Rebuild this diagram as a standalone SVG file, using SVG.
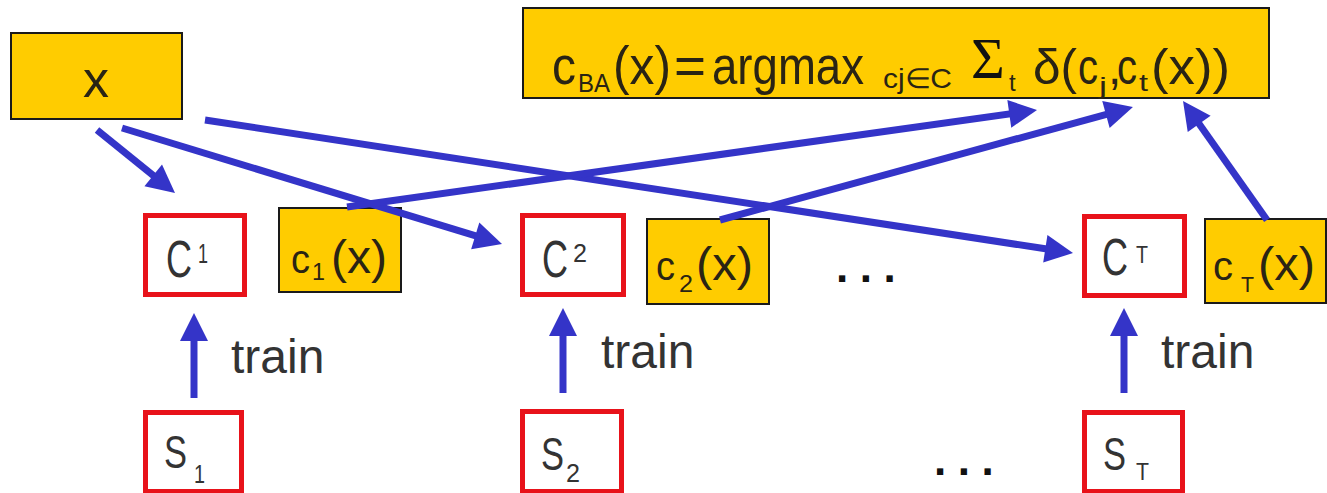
<svg xmlns="http://www.w3.org/2000/svg" width="1327" height="493" viewBox="0 0 1327 493">
  <style>
    .yel { fill: #ffcc00; stroke: #1a1a1a; stroke-width: 2; }
    .red { fill: #ffffff; stroke: #e8121a; stroke-width: 5; }
    .lbl { font-family: "Liberation Sans", Arial, sans-serif; fill: #333333; }
    .frm { font-family: "Liberation Sans", Arial, sans-serif; fill: #2a2414; }
    .sig { font-family: "Liberation Serif", "Times New Roman", serif; fill: #111111; }
    .dots { font-family: "Liberation Sans", Arial, sans-serif; font-weight: bold; fill: #111111; font-size: 44px; letter-spacing: 11.5px; }
    .arr { stroke: #3434c8; stroke-width: 7; fill: none; marker-end: url(#head); }
  </style>
  <defs>
    <marker id="head" markerUnits="userSpaceOnUse" markerWidth="30" markerHeight="28" refX="10" refY="14" orient="auto" overflow="visible">
      <path d="M0,0 L28,14 L0,28 z" fill="#3434c8"/>
    </marker>
  </defs>

  <rect width="1327" height="493" fill="#ffffff"/>

  <!-- input -->
  <g id="node-x">
    <rect class="yel" x="11" y="33" width="171" height="86"/>
    <text class="frm" x="96" y="97" font-size="52" text-anchor="middle">x</text>
  </g>

  <!-- combination rule -->
  <g id="node-vote">
    <rect class="yel" x="523" y="8" width="746" height="90"/>
    <text class="frm" x="552" y="84" font-size="54" textLength="24" lengthAdjust="spacingAndGlyphs">c</text>
    <text class="frm" x="578" y="92" font-size="26" textLength="32" lengthAdjust="spacingAndGlyphs">BA</text>
    <text class="frm" x="613" y="84" font-size="54" textLength="58" lengthAdjust="spacingAndGlyphs">(x)</text>
    <text class="frm" x="674" y="84" font-size="54" textLength="32" lengthAdjust="spacingAndGlyphs">=</text>
    <text class="frm" x="712" y="84" font-size="54" textLength="152" lengthAdjust="spacingAndGlyphs">argmax</text>
    <text class="frm" x="883" y="88" font-size="28" textLength="69" lengthAdjust="spacingAndGlyphs">cj∈C</text>
    <text class="sig" x="971" y="78" font-size="58">Σ</text>
    <text class="frm" x="1009" y="91" font-size="24">t</text>
    <text class="frm" x="1033" y="84" font-size="50" textLength="44" lengthAdjust="spacingAndGlyphs">δ(</text>
    <text class="frm" x="1078" y="84" font-size="50" textLength="20" lengthAdjust="spacingAndGlyphs">c</text>
    <text class="frm" x="1099" y="94" font-size="24" textLength="8" lengthAdjust="spacingAndGlyphs">j</text>
    <text class="frm" x="1108" y="84" font-size="48">,</text>
    <text class="frm" x="1117" y="84" font-size="50" textLength="20" lengthAdjust="spacingAndGlyphs">c</text>
    <text class="frm" x="1139" y="91" font-size="24" textLength="9" lengthAdjust="spacingAndGlyphs">t</text>
    <text class="frm" x="1151" y="84" font-size="50" textLength="79" lengthAdjust="spacingAndGlyphs">(x))</text>
  </g>

  <!-- classifiers -->
  <g id="node-c1">
    <rect class="red" x="145.5" y="215.5" width="99" height="79"/>
    <text class="lbl" x="166" y="277" font-size="52" textLength="26" lengthAdjust="spacingAndGlyphs">C</text>
    <text class="lbl" x="198" y="263" font-size="28" textLength="10" lengthAdjust="spacingAndGlyphs">1</text>
  </g>
  <g id="node-c2">
    <rect class="red" x="522.5" y="215.5" width="101" height="79"/>
    <text class="lbl" x="542" y="277" font-size="52" textLength="26" lengthAdjust="spacingAndGlyphs">C</text>
    <text class="lbl" x="573" y="262" font-size="26" textLength="14" lengthAdjust="spacingAndGlyphs">2</text>
  </g>
  <g id="node-cT">
    <rect class="red" x="1084.5" y="216.5" width="100" height="79"/>
    <text class="lbl" x="1102" y="275" font-size="52" textLength="26" lengthAdjust="spacingAndGlyphs">C</text>
    <text class="lbl" x="1136" y="263" font-size="24" textLength="12" lengthAdjust="spacingAndGlyphs">T</text>
  </g>

  <!-- classifier outputs -->
  <g id="node-out1">
    <rect class="yel" x="279" y="208" width="122" height="84"/>
    <text class="frm" x="291" y="273" font-size="40" textLength="19" lengthAdjust="spacingAndGlyphs">c</text>
    <text class="frm" x="312" y="280" font-size="24" textLength="13" lengthAdjust="spacingAndGlyphs">1</text>
    <text class="frm" x="331" y="273" font-size="46" textLength="56" lengthAdjust="spacingAndGlyphs">(x)</text>
  </g>
  <g id="node-out2">
    <rect class="yel" x="647" y="219" width="122" height="85"/>
    <text class="frm" x="656" y="280" font-size="40" textLength="19" lengthAdjust="spacingAndGlyphs">c</text>
    <text class="frm" x="679" y="292" font-size="24" textLength="14" lengthAdjust="spacingAndGlyphs">2</text>
    <text class="frm" x="696" y="280" font-size="46" textLength="57" lengthAdjust="spacingAndGlyphs">(x)</text>
  </g>
  <g id="node-outT">
    <rect class="yel" x="1205" y="219" width="121" height="84"/>
    <text class="frm" x="1213" y="280" font-size="40" textLength="20" lengthAdjust="spacingAndGlyphs">c</text>
    <text class="frm" x="1241" y="292" font-size="22" textLength="13" lengthAdjust="spacingAndGlyphs">T</text>
    <text class="frm" x="1258" y="280" font-size="46" textLength="57" lengthAdjust="spacingAndGlyphs">(x)</text>
  </g>

  <!-- training sets -->
  <g id="node-s1">
    <rect class="red" x="145.5" y="412.5" width="96" height="79"/>
    <text class="lbl" x="164" y="468" font-size="46" textLength="23" lengthAdjust="spacingAndGlyphs">S</text>
    <text class="lbl" x="194" y="483" font-size="26" textLength="11" lengthAdjust="spacingAndGlyphs">1</text>
  </g>
  <g id="node-s2">
    <rect class="red" x="522.5" y="411.5" width="99" height="80"/>
    <text class="lbl" x="541" y="470" font-size="46" textLength="23" lengthAdjust="spacingAndGlyphs">S</text>
    <text class="lbl" x="566" y="482" font-size="26" textLength="14" lengthAdjust="spacingAndGlyphs">2</text>
  </g>
  <g id="node-sT">
    <rect class="red" x="1084.5" y="412.5" width="98" height="79"/>
    <text class="lbl" x="1103" y="470" font-size="46" textLength="23" lengthAdjust="spacingAndGlyphs">S</text>
    <text class="lbl" x="1136" y="480" font-size="24" textLength="13" lengthAdjust="spacingAndGlyphs">T</text>
  </g>

  <!-- ellipses -->
  <text class="dots" x="836" y="282">...</text>
  <text class="dots" x="934" y="475">...</text>

  <!-- train labels -->
  <text class="lbl" x="231" y="373" font-size="48">train</text>
  <text class="lbl" x="601" y="368" font-size="48">train</text>
  <text class="lbl" x="1161" y="368" font-size="48">train</text>

  <!-- connectors -->
  <g id="connectors">
    <line class="arr" x1="97" y1="130" x2="161" y2="181.7"/>
    <line class="arr" x1="122" y1="128" x2="484.8" y2="238.7"/>
    <line class="arr" x1="205" y1="120" x2="1055.2" y2="250.3"/>
    <line class="arr" x1="347" y1="207" x2="1019.2" y2="112.5"/>
    <line class="arr" x1="720" y1="220" x2="1115.6" y2="111.8"/>
    <line class="arr" x1="1267" y1="220" x2="1193.4" y2="115.7"/>
    <line class="arr" x1="194" y1="398" x2="194" y2="331"/>
    <line class="arr" x1="563" y1="393" x2="563" y2="326"/>
    <line class="arr" x1="1124" y1="393" x2="1124" y2="326"/>
  </g>
</svg>
